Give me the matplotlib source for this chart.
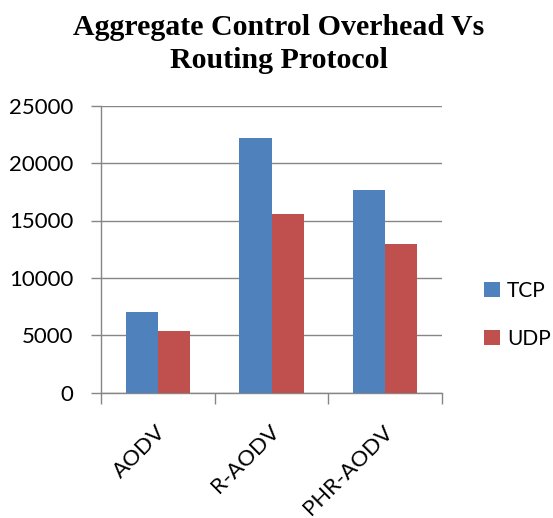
import matplotlib
matplotlib.use("Agg")
import matplotlib.pyplot as plt
import numpy as np

categories = ["AODV", "R-AODV", "PHR-AODV"]
tcp = [7000, 22150, 17700]
udp = [5400, 15550, 12950]
series_names = ["TCP", "UDP"]
yticks = [0, 5000, 10000, 15000, 20000, 25000]
title = "Aggregate Control Overhead Vs\nRouting Protocol"

fig = plt.figure(figsize=(5.53, 5.18), dpi=100)
W, H = 553, 518
ax = fig.add_axes([101 / W, 1 - 392.7 / H, 341 / W, 287 / H])

x = np.arange(len(categories))
bw = 0.282
c_tcp = "#4F81BD"
c_udp = "#C0504D"
ax.bar(x - bw / 2, tcp, bw, color=c_tcp, label=series_names[0], zorder=3)
ax.bar(x + bw / 2, udp, bw, color=c_udp, label=series_names[1], zorder=3)

ax.set_xlim(-0.5, len(categories) - 0.5)
ax.set_ylim(0, 25000)
ax.set_yticks(yticks)
ax.set_yticklabels([str(v) for v in yticks], fontfamily="Lato", fontsize=16)
ax.yaxis.grid(True, color="#868686", linewidth=1.0, zorder=0)
ax.set_axisbelow(True)

ax.set_xticks(np.arange(len(categories) + 1) - 0.5)
ax.set_xticklabels([])
ax.tick_params(axis="x", direction="out", length=8, width=1, color="#868686")
ax.tick_params(axis="y", direction="out", length=7, width=1, color="#868686", pad=13)

for i, c in enumerate(categories):
    ax.text(i - 0.02, -0.10, c, transform=ax.get_xaxis_transform(),
            rotation=45, ha="right", va="top", rotation_mode="anchor",
            fontfamily="Lato", fontsize=16)

for s in ["top", "right"]:
    ax.spines[s].set_visible(False)
for s in ["left", "bottom"]:
    ax.spines[s].set_color("#868686")
    ax.spines[s].set_linewidth(1.0)

leg = ax.legend(loc="center left", bbox_to_anchor=(484 / W, 1 - 315 / H),
                bbox_transform=fig.transFigure, frameon=False, borderpad=0,
                borderaxespad=0,
                prop={"family": "Lato", "size": 15}, handlelength=0.75,
                handleheight=0.75, labelspacing=1.35, handletextpad=0.35)

fig.text(279 / W, 1 - 44 / H, title, ha="center", va="center",
         fontfamily="Liberation Serif", fontweight="bold", fontsize=21.5,
         linespacing=1.3)

fig.savefig("out.png", dpi=100)
